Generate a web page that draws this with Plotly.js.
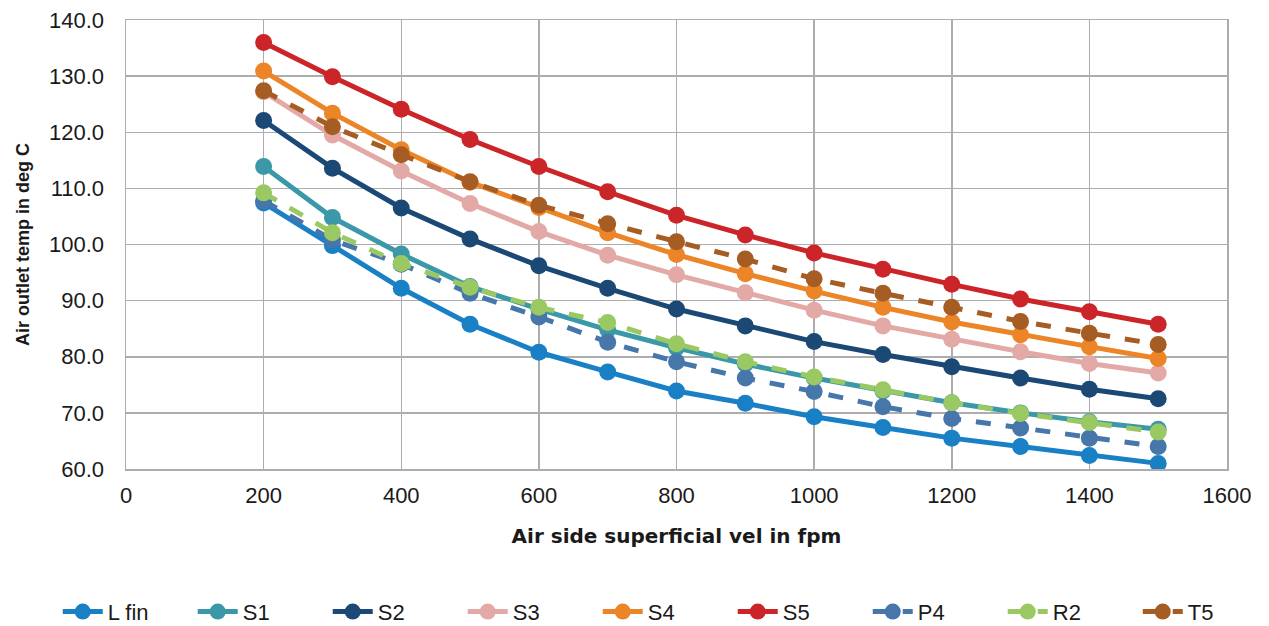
<!DOCTYPE html>
<html>
<head>
<meta charset="utf-8">
<script src="https://cdn.plot.ly/plotly-3.0.1.min.js"></script>
<style>html,body{margin:0;padding:0;background:#fff;}#chart{width:1269px;height:626px;}</style>
</head>
<body>
<div id="chart"></div>
<script>
const velocity = [200, 300, 400, 500, 600, 700, 800, 900, 1000, 1100, 1200, 1300, 1400, 1500];
const seriesNames = ["L fin", "S1", "S2", "S3", "S4", "S5", "P4", "R2", "T5"];
const Lfin = [107.4, 99.8, 92.2, 85.8, 80.8, 77.3, 73.9, 71.7, 69.3, 67.4, 65.5, 64.0, 62.4, 61.0];
const S1 = [113.9, 104.8, 98.3, 92.5, 88.5, 84.8, 81.6, 78.7, 76.2, 73.9, 71.8, 70.0, 68.4, 67.1];
const S2 = [122.1, 113.6, 106.5, 101.0, 96.2, 92.2, 88.5, 85.5, 82.7, 80.4, 78.2, 76.2, 74.2, 72.5];
const S3 = [127.2, 119.5, 113.1, 107.3, 102.3, 98.1, 94.6, 91.4, 88.3, 85.5, 83.1, 80.9, 78.8, 77.1];
const S4 = [130.9, 123.4, 116.9, 111.1, 106.6, 102.1, 98.2, 94.8, 91.7, 88.8, 86.2, 83.9, 81.8, 79.7];
const S5 = [136.0, 129.9, 124.1, 118.7, 113.9, 109.4, 105.2, 101.7, 98.5, 95.6, 92.9, 90.3, 88.0, 85.8];
const P4 = [107.8, 100.8, 96.5, 91.3, 87.1, 82.6, 79.1, 76.2, 73.8, 71.1, 69.0, 67.3, 65.5, 64.0];
const R2 = [109.2, 102.1, 96.6, 92.4, 88.8, 86.1, 82.3, 79.1, 76.4, 74.1, 71.8, 69.9, 68.3, 66.6];
const T5 = [127.4, 121.0, 116.0, 111.2, 107.0, 103.7, 100.5, 97.4, 93.9, 91.3, 88.8, 86.3, 84.2, 82.2];
const yTicks = [60, 70, 80, 90, 100, 110, 120, 130, 140];
const xTicks = [0, 200, 400, 600, 800, 1000, 1200, 1400, 1600];

const values = [Lfin, S1, S2, S3, S4, S5, P4, R2, T5];
const colors = ["#1a80c6", "#3b98a9", "#1b4874", "#e2a9a6", "#ec8527", "#cc2529", "#4676aa", "#9ac963", "#a65d23"];
const dashes = ["solid", "solid", "solid", "solid", "solid", "solid", "dash", "dash", "dash"];

const traces = seriesNames.map((n, i) => ({
  x: velocity, y: values[i], name: n, type: "scatter", mode: "lines+markers",
  line: {color: colors[i], width: 5, dash: dashes[i]},
  marker: {color: colors[i], size: 17, symbol: "circle"}
}));

const font = "'Liberation Sans', Arial, Helvetica, sans-serif";
const layout = {
  width: 1269, height: 626,
  margin: {l: 126, r: 42, t: 20, b: 157, autoexpand: false},
  paper_bgcolor: "#fff", plot_bgcolor: "#fff",
  showlegend: true,
  font: {family: font, color: "#1a1a1a", size: 22},
  xaxis: {
    range: [0, 1600], tickvals: xTicks, ticktext: xTicks.map(String),
    showgrid: true, gridcolor: "#adadad", gridwidth: 1.5,
    showline: true, linecolor: "#adadad", linewidth: 1.5, mirror: true,
    zeroline: false, ticks: "", ticklen: 0, ticklabelstandoff: 6,
    tickfont: {family: font, size: 22, color: "#1a1a1a"},
    title: {text: "<b>Air side superficial vel in fpm</b>", font: {family: "'DejaVu Sans', sans-serif", size: 20, color: "#1a1a1a"}, standoff: 22}
  },
  yaxis: {
    range: [60, 140], tickvals: yTicks, ticktext: yTicks.map(v => v.toFixed(1)),
    showgrid: true, gridcolor: "#adadad", gridwidth: 1.5,
    showline: true, linecolor: "#adadad", linewidth: 1.5, mirror: true,
    zeroline: false, ticks: "", ticklen: 0, ticklabelstandoff: 16,
    tickfont: {family: font, size: 22, color: "#1a1a1a"},
    title: {text: "<b>Air outlet temp in deg C</b>", font: {family: font, size: 18, color: "#1a1a1a"}, standoff: 14}
  },
  legend: {
    orientation: "h", x: -0.062, xanchor: "left", y: -0.318, yanchor: "middle",
    font: {family: "'Liberation Sans Narrow', 'Liberation Sans', Arial, sans-serif", size: 22, color: "#1a1a1a"},
    itemwidth: 40, entrywidth: 80, entrywidthmode: "pixels", traceorder: "normal"
  }
};

Plotly.newPlot("chart", traces, layout, {displayModeBar: false, staticPlot: true});
</script>
</body>
</html>
